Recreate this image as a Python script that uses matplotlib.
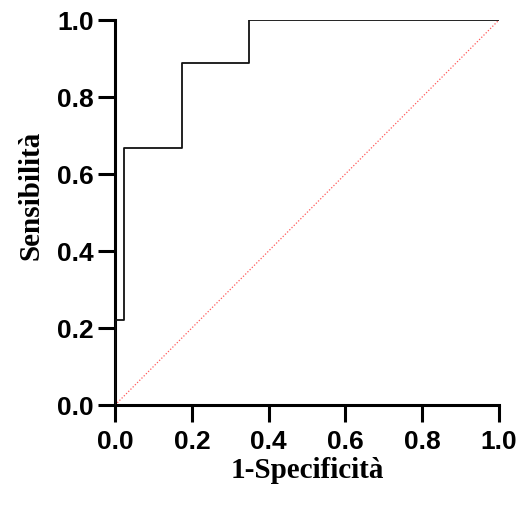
import matplotlib.pyplot as plt

# ROC curve points (step)
fpr = [0.0, 0.0, 0.023, 0.023, 0.174, 0.174, 0.348, 0.348, 1.0]
tpr = [0.0, 0.222, 0.222, 0.667, 0.667, 0.889, 0.889, 1.0, 1.0]
ticks = [0.0, 0.2, 0.4, 0.6, 0.8, 1.0]
tick_labels = ['0.0', '0.2', '0.4', '0.6', '0.8', '1.0']

fig = plt.figure(figsize=(5.23, 5.09), dpi=100)
ax = fig.add_axes([0.220, 0.2043, 0.734, 0.7564])

ax.plot([0, 1], [0, 1], color='#ff5a5a', lw=0.9, ls=(0, (1, 1.5)), zorder=2)
ax.plot(fpr, tpr, color='#111111', lw=1.3, zorder=3)

ax.set_xlim(0, 1)
ax.set_ylim(0, 1)
ax.set_xticks(ticks)
ax.set_yticks(ticks)
ax.set_xticklabels(tick_labels, fontfamily='Liberation Sans', fontweight='bold', fontsize=19)
ax.set_yticklabels(tick_labels, fontfamily='Liberation Sans', fontweight='bold', fontsize=19)

ax.spines['top'].set_visible(False)
ax.spines['right'].set_visible(False)
for s in ['left', 'bottom']:
    ax.spines[s].set_linewidth(2.2)
ax.tick_params(direction='out', length=12, width=2.2)
ax.tick_params(axis='x', pad=6)
ax.tick_params(axis='y', pad=3.5)

ax.set_xlabel('1-Specificità', fontfamily='Liberation Serif', fontweight='bold', fontsize=21, labelpad=2)
ax.set_ylabel('Sensibilità', fontfamily='Liberation Serif', fontweight='bold', fontsize=21, labelpad=9, y=0.545)

fig.savefig('out.png', dpi=100)
